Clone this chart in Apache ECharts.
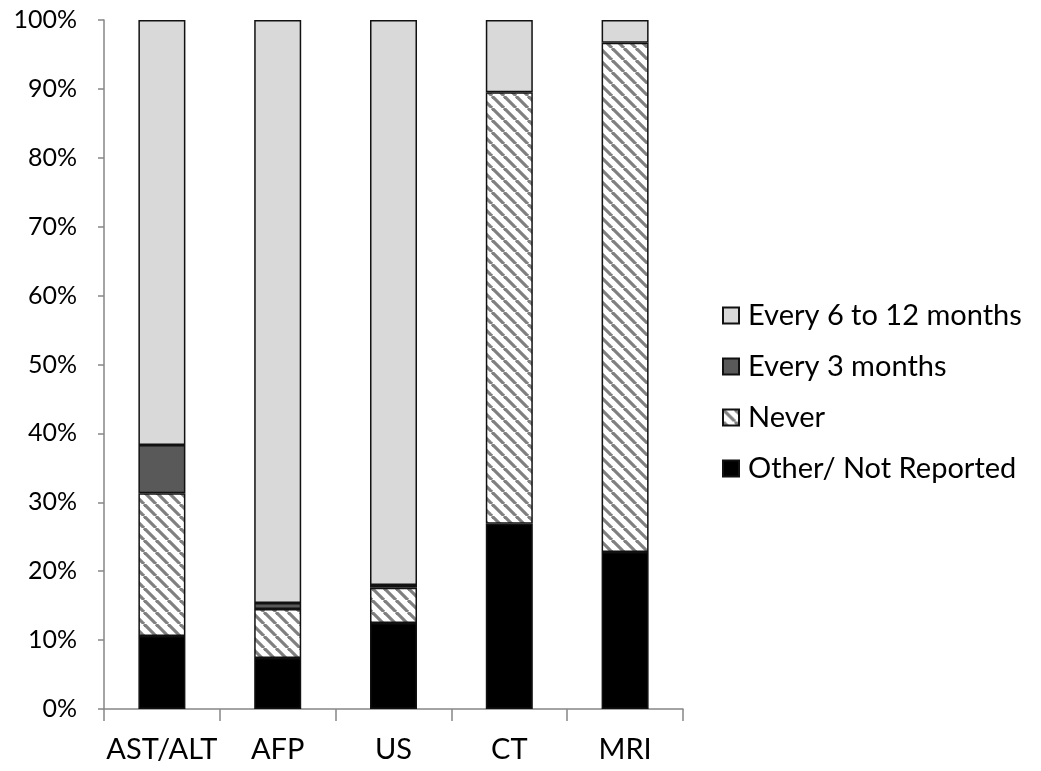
<!DOCTYPE html>
<html>
<head>
<meta charset="utf-8">
<script src="https://cdn.jsdelivr.net/npm/echarts@6/dist/echarts.min.js"></script>
<style>
html,body{margin:0;padding:0;background:#fff;}
#chart{width:1041px;height:771px;}
</style>
</head>
<body>
<div id="chart"></div>
<script>
// ---- data ----
const categories = ['AST/ALT', 'AFP', 'US', 'CT', 'MRI'];
const otherNotReported = [10.6, 7.4, 12.5, 26.9, 22.8];
const never = [20.7, 7.1, 5.1, 62.6, 73.9];
const every3Months = [7.0, 0.9, 0.4, 0, 0];
const every6to12Months = [61.7, 84.6, 82.0, 10.5, 3.3];
const yTicks = [0, 10, 20, 30, 40, 50, 60, 70, 80, 90, 100];

// ---- hatch pattern ----
function hatch() {
  const s = 12;
  const c = document.createElement('canvas');
  c.width = s; c.height = s;
  const g = c.getContext('2d');
  g.fillStyle = '#ffffff';
  g.fillRect(0, 0, s, s);
  g.strokeStyle = '#808080';
  g.lineWidth = 3.2;
  for (let k = -1; k <= 1; k++) {
    g.beginPath();
    g.moveTo(k * s, 0);
    g.lineTo(k * s + s, s);
    g.stroke();
  }
  return c;
}
const hatchPattern = { image: hatch(), repeat: 'repeat' };

const font = 'Lato';
const border = { borderColor: '#111', borderWidth: 1.5 };

function bar(name, data, color) {
  return {
    name: name,
    type: 'bar',
    stack: 'all',
    barWidth: 47,
    // zero-height segments are left out so they draw no border line
    data: data.map(v => (v === 0 ? '-' : v)),
    itemStyle: Object.assign({ color: color }, border),
    emphasis: { disabled: true }
  };
}

const chart = echarts.init(document.getElementById('chart'), null, { renderer: 'canvas' });
chart.setOption({
  animation: false,
  backgroundColor: '#fff',
  textStyle: { fontFamily: font },
  grid: { left: 104, right: 358, top: 20, bottom: 62, containLabel: false },
  legend: {
    orient: 'vertical',
    left: 717,
    top: 296,
    itemWidth: 16,
    itemHeight: 16,
    itemGap: 22,
    icon: 'rect',
    data: ['Every 6 to 12 months', 'Every 3 months', 'Never', 'Other/ Not Reported'],
    textStyle: { fontFamily: font, fontSize: 29, color: '#000', padding: [0, 0, 0, 4] }
  },
  xAxis: {
    type: 'category',
    data: categories,
    axisLine: { lineStyle: { color: '#868686', width: 1.5 } },
    axisTick: { show: true, length: 12, lineStyle: { color: '#868686', width: 1.5 } },
    axisLabel: { interval: 0, fontFamily: font, fontSize: 29, color: '#000', margin: 26 }
  },
  yAxis: {
    type: 'value',
    min: 0,
    max: 100,
    interval: 10,
    splitLine: { show: false },
    axisLine: { show: true, lineStyle: { color: '#868686', width: 1.5 } },
    axisTick: { show: true, length: 6, lineStyle: { color: '#868686', width: 1.5 } },
    axisLabel: {
      fontFamily: font, fontSize: 25, color: '#000', margin: 27,
      formatter: v => (yTicks.indexOf(v) >= 0 ? v + '%' : '')
    }
  },
  series: [
    bar('Other/ Not Reported', otherNotReported, '#000000'),
    bar('Never', never, hatchPattern),
    bar('Every 3 months', every3Months, '#595959'),
    bar('Every 6 to 12 months', every6to12Months, '#d9d9d9')
  ]
});
</script>
</body>
</html>
